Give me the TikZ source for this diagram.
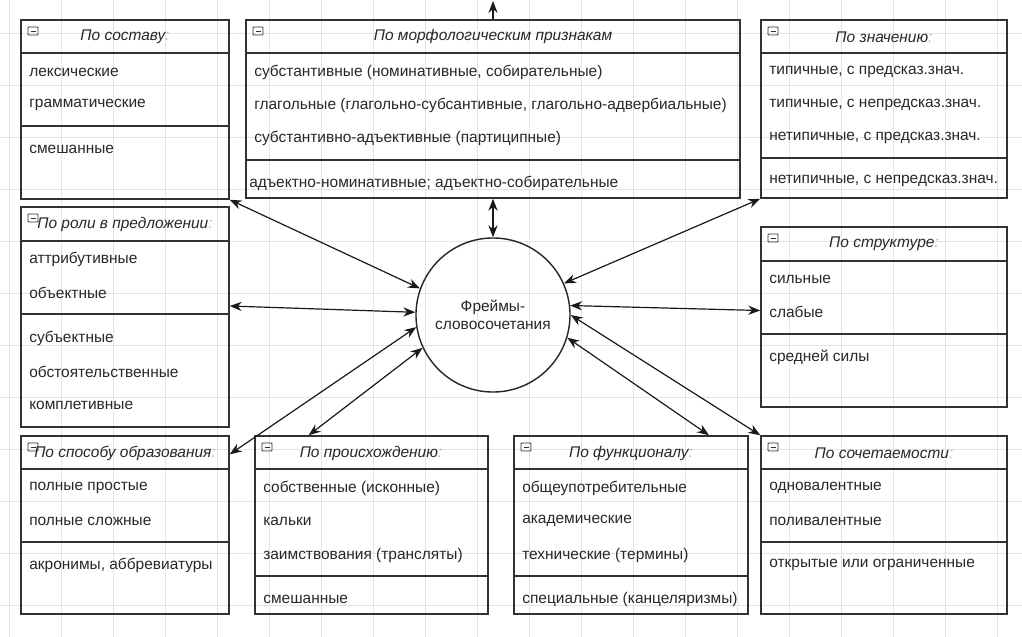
\documentclass[tikz,border=0pt]{standalone}
\usepackage{fontspec}
\setmainfont{Liberation Sans}
\usetikzlibrary{arrows.meta, positioning, fit}
\usepackage{xcolor}
\definecolor{boxline}{RGB}{50,50,50}
\definecolor{textgray}{RGB}{40,40,40}
\definecolor{gridgray}{RGB}{228,228,228}

\begin{document}
\begin{tikzpicture}[x=0.025cm, y=-0.025cm,
  every node/.style={font=\fontsize{11}{13}\selectfont, text=textgray},
  group/.style={draw=boxline, line width=1.05pt, inner sep=0pt},
  title/.style={font=\fontsize{11}{13}\selectfont\itshape},
  item/.style={anchor=west, inner sep=0pt},
  sep/.style={draw=boxline, line width=1.05pt},
  link/.style={{Stealth[length=8.5pt,width=6.5pt]}-{Stealth[length=8.5pt,width=6.5pt]}, line width=0.85pt, black!90}]
\useasboundingbox[fill=white] (0,0) rectangle (1022,637);
% grid
\foreach \gx in {9,61,...,1022} \draw[gridgray] (\gx,0) -- (\gx,637);
\foreach \gy in {33,85,...,637} \draw[gridgray] (0,\gy) -- (1022,\gy);

% top row
\node[group, fit={(21,20) (229,199)}] (sostav) {};
\node[title] at (125,37) {По составу\textcolor{gray!60}{:}};
\draw[sep] (21,53) -- (229,53);
\draw[sep] (21,126) -- (229,126);
\node[item] at (29,72) {лексические};
\node[item] at (29,105) {грамматические};
\node[item] at (29,149) {смешанные};

\node[group, fit={(246,20) (740,198)}] (morf) {};
\node[title] at (493,37) {По морфологическим признакам};
\draw[sep] (246,53) -- (740,53);
\draw[sep] (246,160) -- (740,160);
\node[item] at (254,72) {субстантивные (номинативные, собирательные)};
\node[item] at (254,105) {глагольные (глагольно-субсантивные, глагольно-адвербиальные)};
\node[item] at (254,138) {субстантивно-адъективные (партиципные)};
\node[item] at (249,183) {адъектно-номинативные; адъектно-собирательные};

\node[group, fit={(761,20) (1007,198)}] (znach) {};
\node[title] at (884,37) {По значению\textcolor{gray!60}{:}};
\draw[sep] (761,53) -- (1007,53);
\draw[sep] (761,158) -- (1007,158);
\node[item] at (769,72) {типичные, с предсказ.знач.};
\node[item] at (769,105) {типичные, с непредсказ.знач.};
\node[item] at (769,138) {нетипичные, с предсказ.знач.};
\node[item] at (769,181) {нетипичные, с непредсказ.знач.};

% middle row
\node[group, fit={(21,207) (229,427)}] (roli) {};
\node[title] at (125,224) {По роли в предложении\textcolor{gray!60}{:}};
\draw[sep] (21,241) -- (229,241);
\draw[sep] (21,314) -- (229,314);
\node[item] at (29,259) {аттрибутивные};
\node[item] at (29,293) {объектные};
\node[item] at (29,338) {субъектные};
\node[item] at (29,372) {обстоятельственные};
\node[item] at (29,405) {комплетивные};

\node[group, fit={(761,227) (1007,407)}] (struk) {};
\node[title] at (884,244) {По структуре\textcolor{gray!60}{:}};
\draw[sep] (761,261) -- (1007,261);
\draw[sep] (761,334) -- (1007,334);
\node[item] at (769,279) {сильные};
\node[item] at (769,312) {слабые};
\node[item] at (769,357) {средней силы};

\node[circle, draw=black!85, line width=1pt, minimum size=3.85cm, align=center] (frame) at (493,315) {Фреймы-\\словосочетания};

% bottom row
\node[group, fit={(21,436) (229,614)}] (sposob) {};
\node[title] at (125,453) {По способу образования\textcolor{gray!60}{:}};
\draw[sep] (21,469) -- (229,469);
\draw[sep] (21,542) -- (229,542);
\node[item] at (29,488) {полные простые};
\node[item] at (29,521) {полные сложные};
\node[item] at (29,565) {акронимы, аббревиатуры};

\node[group, fit={(255,436) (488,614)}] (proisch) {};
\node[title] at (371,453) {По происхождению\textcolor{gray!60}{:}};
\draw[sep] (255,469) -- (488,469);
\draw[sep] (255,576) -- (488,576);
\node[item] at (263,488) {собственные (исконные)};
\node[item] at (263,521) {кальки};
\node[item] at (263,555) {заимствования (трансляты)};
\node[item] at (263,599) {смешанные};

\node[group, fit={(514,436) (748,614)}] (funkc) {};
\node[title] at (631,453) {По функционалу\textcolor{gray!60}{:}};
\draw[sep] (514,469) -- (748,469);
\draw[sep] (514,576) -- (748,576);
\node[item] at (522,488) {общеупотребительные};
\node[item] at (522,521) {академические};
\node[item] at (522,555) {технические (термины)};
\node[item] at (522,599) {специальные (канцеляризмы)};

\node[group, fit={(761,436) (1007,614)}] (sochet) {};
\node[title] at (884,453) {По сочетаемости\textcolor{gray!60}{:}};
\draw[sep] (761,469) -- (1007,469);
\draw[sep] (761,542) -- (1007,542);
\node[item] at (769,488) {одновалентные};
\node[item] at (769,521) {поливалентные};
\node[item] at (769,565) {открытые или ограниченные};

% collapse icons
\foreach \bx/\by in {21/20, 246/20, 761/20, 21/207, 761/227, 21/436, 255/436, 514/436, 761/436} {
  \draw[boxline, line width=0.6pt, rounded corners=0.5pt] (\bx+7,\by+7) rectangle (\bx+17,\by+15);
  \draw[boxline, line width=0.7pt] (\bx+9.5,\by+11) -- (\bx+14.5,\by+11);
}

% connectors
\coordinate (up) at (493,1);
\draw[-{Stealth[length=8.5pt,width=6.5pt]}, line width=0.85pt, black!90] (morf.north) -- (up);
\draw[link] (morf.south) -- (frame.north);
\draw[link] (sostav.south east) -- (frame.160);
\draw[link] (roli.6.6) -- (frame.178);
\draw[link] (sposob.34.7) -- (frame.189);
\draw[link] (proisch.125.6) -- (frame.205);
\draw[link] (znach.south west) -- (frame.24);
\draw[link] (struk.177.7) -- (frame.7);
\draw[link] (sochet.north west) -- (frame.0);
\draw[link] (funkc.49.8) -- (frame.-17.5);
\end{tikzpicture}
\end{document}
